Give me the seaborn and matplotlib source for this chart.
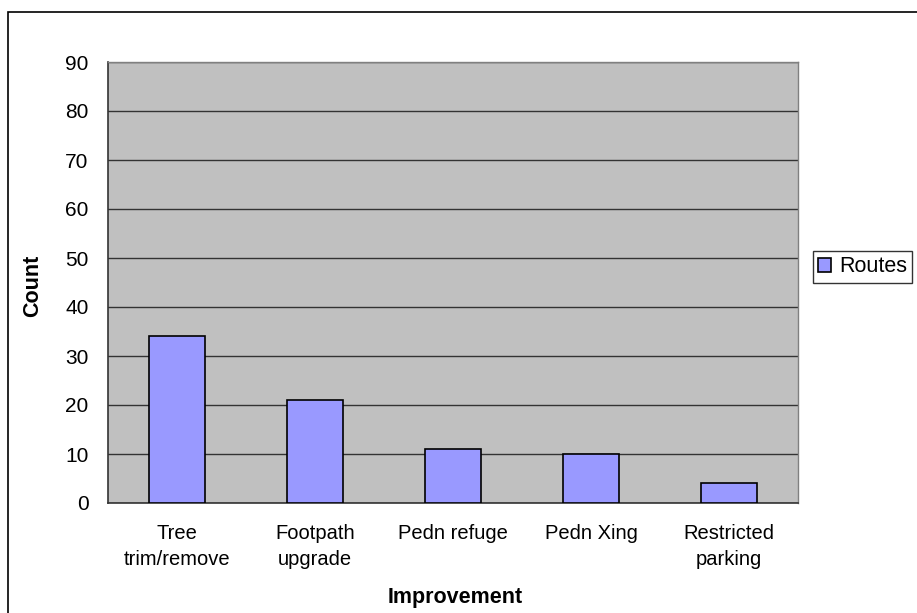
import numpy as np
import pandas as pd
import seaborn as sns
import matplotlib.pyplot as plt
from matplotlib.patches import Rectangle

# chart data
categories = ['Tree\ntrim/remove', 'Footpath\nupgrade', 'Pedn refuge', 'Pedn Xing', 'Restricted\nparking']
counts = [34, 21, 11, 10, 4]
y_ticks = [0, 10, 20, 30, 40, 50, 60, 70, 80, 90]

df = pd.DataFrame({'Improvement': categories, 'Count': counts})

sns.set_style('white')
plt.rcParams['font.family'] = ['Liberation Sans', 'DejaVu Sans']
plt.rcParams['text.color'] = 'black'
plt.rcParams['xtick.color'] = 'black'
plt.rcParams['ytick.color'] = 'black'

fig = plt.figure(figsize=(9.17, 6.13), dpi=100)
ax = fig.add_axes([108 / 917, 1 - 503 / 613, 690 / 917, 441 / 613])
ax.set_facecolor('#C0C0C0')

sns.barplot(data=df, x='Improvement', y='Count', color='#9999FF', saturation=1,
            edgecolor='black', linewidth=1.2, width=0.41, label='Routes', ax=ax, zorder=3)

ax.set_ylim(0, 90)
ax.set_xlim(-0.5, len(categories) - 0.5)
ax.set_yticks(y_ticks)
ax.yaxis.grid(True, color='#333333', linewidth=1, zorder=1)
ax.set_axisbelow(True)

# ticks at category boundaries, labels at centres
ax.set_xticks(np.arange(len(categories)))
ax.set_xticklabels(categories, fontsize=14.5, linespacing=1.45)
ax.set_xticks(np.arange(len(categories) + 1) - 0.5, minor=True)
ax.tick_params(axis='x', which='major', length=0, pad=15, labelcolor='black')
ax.tick_params(axis='x', which='minor', length=4, width=1, color='black', direction='out')
ax.tick_params(axis='y', length=6, width=1, color='black', direction='out', labelsize=15, pad=8,
               labelcolor='black')

for side in ['left', 'bottom']:
    ax.spines[side].set_color('#333333')
    ax.spines[side].set_linewidth(1.2)
for side in ['top', 'right']:
    ax.spines[side].set_color('#808080')
    ax.spines[side].set_linewidth(1)

ax.set_xlabel('')
ax.set_ylabel('')
fig.text(33 / 917, 1 - 286 / 613, 'Count', rotation=90, fontsize=15.5, fontweight='bold',
         ha='center', va='center', color='black')
fig.text(455 / 917, 1 - 598 / 613, 'Improvement', fontsize=15.5, fontweight='bold',
         ha='center', va='center', color='black')

leg = ax.legend(loc='upper left', bbox_to_anchor=(813 / 917, 1 - 251 / 613),
                bbox_transform=fig.transFigure, fontsize=15.5, frameon=True, fancybox=False,
                handlelength=0.6, handleheight=0.6, handletextpad=0.35, borderpad=0.25,
                borderaxespad=0, labelcolor='black')
leg.get_frame().set_edgecolor('black')
leg.get_frame().set_linewidth(1)

# outer chart border (right and bottom edges fall off the image)
fig.patches.append(Rectangle((8 / 917, -0.1), 1.2, 1.1 - 12 / 613, transform=fig.transFigure,
                             fill=False, edgecolor='black', linewidth=1.2))

fig.savefig('out.png', dpi=100)
